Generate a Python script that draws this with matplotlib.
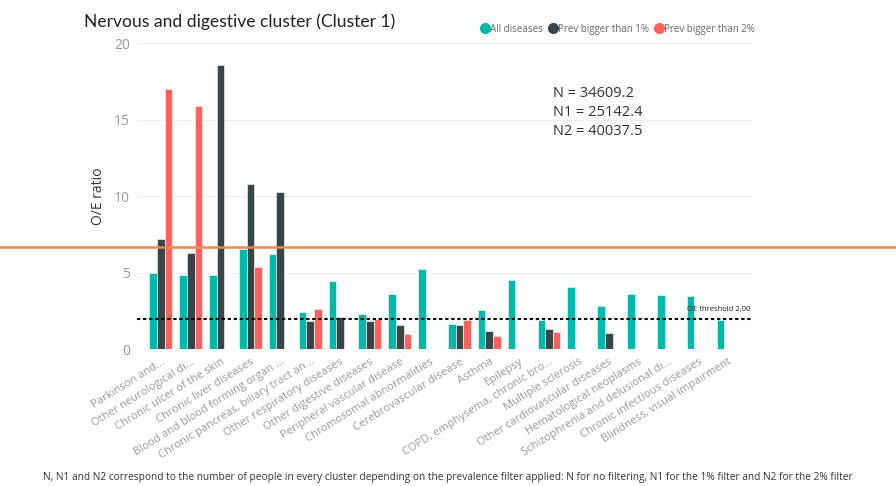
import numpy as np
import matplotlib
matplotlib.use("Agg")
import matplotlib.pyplot as plt
from matplotlib.lines import Line2D
import matplotlib.transforms as mtransforms

plt.rcParams['font.family'] = ['Open Sans', 'DejaVu Sans']

categories = ["Parkinson and...", "Other neurological di...", "Chronic ulcer of the skin",
              "Chronic liver diseases", "Blood and blood forming organ ...",
              "Chronic pancreas, biliary tract an...", "Other respiratory diseases",
              "Other digestive diseases", "Peripheral vascular disease",
              "Chromosomal abnormalities", "Cerebrovascular disease", "Asthma", "Epilepsy",
              "COPD, emphysema, chronic bro...", "Multiple sclerosis",
              "Other cardiovascular diseases", "Hematological neoplasms",
              "Schizophrenia and delusional di...", "Chronic infectious diseases",
              "Blindness, visual impairment"]
all_diseases = [4.97, 4.84, 4.84, 6.55, 6.23, 2.44, 4.46, 2.31, 3.59, 5.25,
                1.68, 2.57, 4.55, 1.94, 4.05, 2.81, 3.61, 3.53, 3.46, 1.94]
prev_1 = [7.23, 6.32, 18.56, 10.83, 10.3, 1.83, 2.13, 1.87, 1.59, np.nan,
          1.61, 1.19, np.nan, 1.35, np.nan, 1.07, np.nan, np.nan, np.nan, np.nan]
prev_2 = [17.0, 15.88, np.nan, 5.36, np.nan, 2.66, np.nan, 1.96, 0.98, np.nan,
          1.94, 0.87, np.nan, 1.13, np.nan, np.nan, np.nan, np.nan, np.nan, np.nan]
series_names = ["All diseases", "Prev bigger than 1%", "Prev bigger than 2%"]
colors = ["#01B8AA", "#374649", "#FD625E"]
threshold = 2.0
marker_line = 6.67

fig = plt.figure(figsize=(8.96, 4.86), dpi=100)
ax = fig.add_axes([0.1529, 0.2813, 0.6864, 0.6296])

x = np.arange(len(categories))
w = 0.255
for i, (vals, c) in enumerate(zip([all_diseases, prev_1, prev_2], colors)):
    ax.bar(x + (i - 1) * w, vals, width=w, color=c, edgecolor='white', linewidth=0.4,
           zorder=2, label=series_names[i])

# OE threshold
ax.axhline(threshold, color='black', linewidth=1.5, linestyle=(0, (1.6, 1.3)), zorder=3)
ax.text(19.75, threshold + 0.35, "OE threshold 2,00", ha='right', va='bottom',
        fontsize=5.5, color='#222222')

ax.set_xlim(-0.8, 19.8)
ax.set_ylim(0, 20)
ax.set_yticks([0, 5, 10, 15, 20])
ax.yaxis.grid(True, color='#eeeeee', linewidth=0.8, zorder=0)
ax.set_axisbelow(True)
for s in ax.spines.values():
    s.set_visible(False)
ax.tick_params(axis='both', length=0, colors='#999999', labelsize=10)
ax.tick_params(axis='y', pad=5)
ax.set_xticks(x)
ax.set_xticklabels(categories, rotation=32, ha='right', rotation_mode='anchor',
                   fontsize=8, color='#999999')
ax.tick_params(axis='x', pad=5)
ax.set_ylabel("O/E ratio", fontsize=10, color='#333333', labelpad=6)

fig.text(0.094, 0.955, "Nervous and digestive cluster (Cluster 1)", fontsize=12.6,
         color='#222222', va='center', ha='left', family=['Lato', 'DejaVu Sans'])

handles = [Line2D([], [], marker='o', linestyle='', markersize=7, color=c) for c in colors]
fig.legend(handles, series_names, loc='center right', bbox_to_anchor=(0.848, 0.94),
           ncol=3, frameon=False, fontsize=7, labelcolor='#666666',
           handletextpad=0.05, columnspacing=0.5, borderpad=0, handlelength=1.0)

ax.text(0.677, 0.86, "N = 34609.2\nN1 = 25142.4\nN2 = 40037.5", transform=ax.transAxes,
        fontsize=10.5, color='#333333', va='top', ha='left', linespacing=1.35)

# orange line across the whole figure
trans = mtransforms.blended_transform_factory(fig.transFigure, ax.transData)
fig.add_artist(Line2D([0, 1], [marker_line, marker_line], transform=trans,
                      color='#F4874B', linewidth=1.8, zorder=5))

fig.text(0.5, 0.018, "N, N1 and N2 correspond to the number of people in every cluster depending "
         "on the prevalence filter applied: N for no filtering, N1 for the 1% filter and N2 for "
         "the 2% filter", ha='center', va='center', fontsize=7.3, color='#333333')

fig.savefig("out.png", dpi=100)
